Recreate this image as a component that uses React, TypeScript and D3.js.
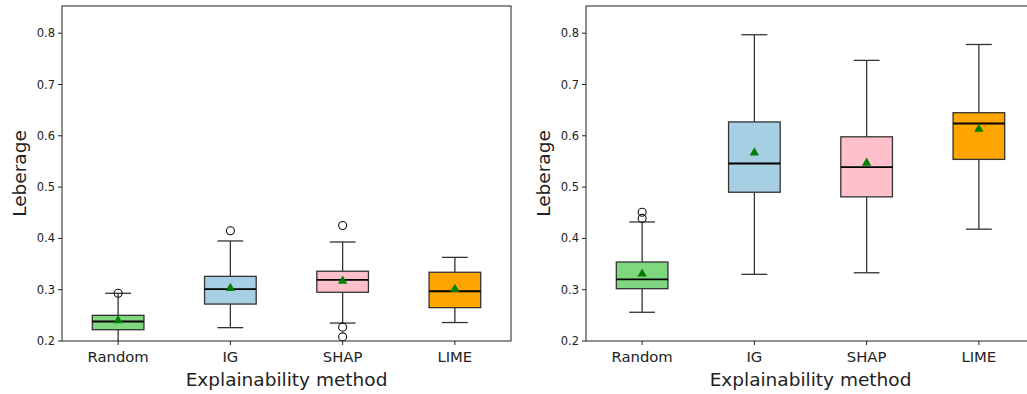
import React from "react";
import * as d3 from "d3";

// explainability methods on the x axis
const methods = ["Random", "IG", "SHAP", "LIME"];
const boxColors = ["#7fd77f", "#a6cfe3", "#ffc0cb", "#ffa500"];
const yTicks = [0.2, 0.3, 0.4, 0.5, 0.6, 0.7, 0.8];

// left panel
const leftLow = [0.19, 0.226, 0.235, 0.236];
const leftQ1 = [0.222, 0.272, 0.295, 0.265];
const leftMedian = [0.238, 0.301, 0.319, 0.297];
const leftQ3 = [0.25, 0.326, 0.336, 0.334];
const leftHigh = [0.293, 0.395, 0.393, 0.363];
const leftMean = [0.238, 0.301, 0.315, 0.299];
const leftOutliers = [[0.293], [0.415], [0.425, 0.227, 0.208], []];

// right panel
const rightLow = [0.256, 0.33, 0.333, 0.418];
const rightQ1 = [0.302, 0.49, 0.481, 0.554];
const rightMedian = [0.32, 0.546, 0.539, 0.624];
const rightQ3 = [0.354, 0.627, 0.598, 0.645];
const rightHigh = [0.432, 0.797, 0.747, 0.778];
const rightMean = [0.329, 0.565, 0.545, 0.611];
const rightOutliers = [[0.451, 0.439], [], [], []];

const top = 6;
const bottom = 341;
const y = d3.scaleLinear().domain([0.2, 0.853]).range([bottom, top]);

function Panel({ id, x0, x1, low, q1, med, q3, high, mean, outliers }) {
    const x = d3
        .scalePoint()
        .domain(methods)
        .range([x0, x1])
        .padding(0.5);
    const bw = (x1 - x0) / methods.length * 0.46;
    const cw = bw / 2;
    const tri = d3.symbol().type(d3.symbolTriangle).size(38)();

    return (
        <g>
            <defs>
                <clipPath id={id}>
                    <rect x={x0} y={top} width={x1 - x0} height={bottom - top} />
                </clipPath>
            </defs>
            <g clipPath={`url(#${id})`}>
                {methods.map((m, i) => {
                    const cx = x(m);
                    return (
                        <g key={m}>
                            <line x1={cx} x2={cx} y1={y(q3[i])} y2={y(high[i])} stroke="#333" strokeWidth={1.3} />
                            <line x1={cx} x2={cx} y1={y(q1[i])} y2={y(low[i])} stroke="#333" strokeWidth={1.3} />
                            <line x1={cx - cw / 2} x2={cx + cw / 2} y1={y(high[i])} y2={y(high[i])} stroke="#333" strokeWidth={1.3} />
                            <line x1={cx - cw / 2} x2={cx + cw / 2} y1={y(low[i])} y2={y(low[i])} stroke="#333" strokeWidth={1.3} />
                            <rect
                                x={cx - bw / 2}
                                y={y(q3[i])}
                                width={bw}
                                height={y(q1[i]) - y(q3[i])}
                                fill={boxColors[i]}
                                stroke="#333"
                                strokeWidth={1.3}
                            />
                            <line x1={cx - bw / 2} x2={cx + bw / 2} y1={y(med[i])} y2={y(med[i])} stroke="#000" strokeWidth={1.8} />
                            <path d={tri} transform={`translate(${cx},${y(mean[i]) - 1})`} fill="green" />
                            {outliers[i].map((o, j) => (
                                <circle key={j} cx={cx} cy={y(o)} r={4} fill="none" stroke="#111" strokeWidth={1.1} />
                            ))}
                        </g>
                    );
                })}
            </g>
            <rect x={x0} y={top} width={x1 - x0} height={bottom - top} fill="none" stroke="#222" strokeWidth={1} />
            {yTicks.map((t) => (
                <g key={t}>
                    <line x1={x0 - 4} x2={x0} y1={y(t)} y2={y(t)} stroke="#222" />
                    <text x={x0 - 7} y={y(t)} dy="0.35em" textAnchor="end" fontSize={11.5} fill="#222">
                        {t.toFixed(1)}
                    </text>
                </g>
            ))}
            {methods.map((m) => (
                <g key={m}>
                    <line x1={x(m)} x2={x(m)} y1={bottom} y2={bottom + 4} stroke="#222" />
                    <text x={x(m)} y={362} textAnchor="middle" fontSize={14.8} fill="#222">
                        {m}
                    </text>
                </g>
            ))}
            <text x={(x0 + x1) / 2} y={386} textAnchor="middle" fontSize={18.5} fill="#222">
                Explainability method
            </text>
            <text
                transform={`translate(${x0 - 36},${(top + bottom) / 2}) rotate(-90)`}
                textAnchor="middle"
                fontSize={18.5}
                fill="#222"
            >
                Leberage
            </text>
        </g>
    );
}

export default function App() {
    return (
        <svg
            width={1027}
            height={394}
            style={{ position: "absolute", left: 0, top: 0, background: "#fff" }}
            fontFamily="DejaVu Sans, sans-serif"
        >
            <Panel
                id="clipL"
                x0={62}
                x1={511}
                low={leftLow}
                q1={leftQ1}
                med={leftMedian}
                q3={leftQ3}
                high={leftHigh}
                mean={leftMean}
                outliers={leftOutliers}
            />
            <Panel
                id="clipR"
                x0={586}
                x1={1035}
                low={rightLow}
                q1={rightQ1}
                med={rightMedian}
                q3={rightQ3}
                high={rightHigh}
                mean={rightMean}
                outliers={rightOutliers}
            />
        </svg>
    );
}
